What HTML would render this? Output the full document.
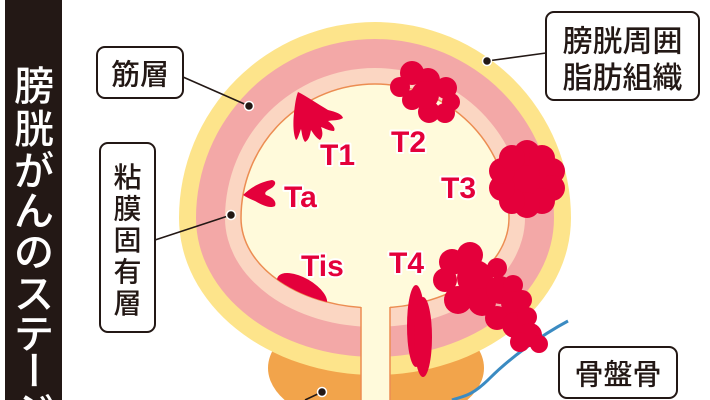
<!DOCTYPE html>
<html><head><meta charset="utf-8"><style>
html,body{margin:0;padding:0;background:#fff;width:710px;height:400px;overflow:hidden;}
svg{display:block;overflow:hidden;}
.bar{font-family:"Noto Sans CJK JP","Liberation Sans",sans-serif;font-size:40px;font-weight:500;fill:#fff;text-anchor:middle;}
.lb{font-family:"Noto Sans CJK JP","Liberation Sans",sans-serif;font-weight:500;fill:#231815;text-anchor:middle;}
.tl{font-family:"Liberation Sans","DejaVu Sans",sans-serif;font-weight:bold;font-size:30px;fill:#e4003b;stroke:#fff;stroke-width:4;paint-order:stroke;stroke-linejoin:round;}
</style></head><body>
<svg width="710" height="400" viewBox="0 0 710 400" xmlns="http://www.w3.org/2000/svg">
<defs>
<clipPath id="inner"><path d="M241,218 A134,134 0 0 1 509,218 A134,90 0 0 1 241,218 Z"/></clipPath>
</defs>
<rect width="710" height="400" fill="#fff"/>

<!-- left title bar -->
<rect x="5" y="0" width="57" height="400" fill="#231815"/>
<text class="bar" x="34" y="100">膀</text>
<text class="bar" x="34" y="143">胱</text>
<text class="bar" x="34" y="185">が</text>
<text class="bar" x="34" y="225">ん</text>
<text class="bar" x="34" y="266">の</text>
<text class="bar" x="34" y="308">ス</text>
<text class="bar" x="34" y="348">テ</text>
<text class="bar" x="34" y="385" transform="rotate(90 34 370)">ー</text>
<text class="bar" x="34" y="426">ジ</text>

<!-- prostate -->
<ellipse cx="376" cy="368" rx="108" ry="60" fill="#f2a44b"/>

<!-- bladder layers -->
<path d="M179,218 A196,196 0 0 1 571,218 A196,157 0 0 1 179,218 Z" fill="#fde48b"/>
<path d="M196,218 A179,179 0 0 1 554,218 A179,139 0 0 1 196,218 Z" fill="#f3a8a7"/>
<path d="M225,218 A150,150 0 0 1 525,218 A150,109 0 0 1 225,218 Z" fill="#fbd6c2"/>
<path d="M241,218 A134,134 0 0 1 509,218 A134,90 0 0 1 241,218 Z" fill="#fffadb" stroke="#ec8d52" stroke-width="1.5"/>

<!-- urethra channel -->
<rect x="361" y="300" width="29" height="100" fill="#fffadb"/>
<line x1="361" y1="307" x2="361" y2="400" stroke="#ec8d52" stroke-width="1.5"/>
<line x1="390" y1="307" x2="390" y2="400" stroke="#ec8d52" stroke-width="1.5"/>

<!-- pelvic bone line -->
<path d="M568,321 C540,336 510,358 490,378 S462,396 452,400" fill="none" stroke="#3b8bc2" stroke-width="3"/>

<!-- Tis -->
<g clip-path="url(#inner)">
<ellipse cx="302" cy="291" rx="28" ry="13" transform="rotate(30 302 291)" fill="#e4003b"/>
</g>

<!-- T1 -->
<path d="M298,92 C306,96 318,104 328,110 C336,112 342,114 343,118 C338,121 332,120 328,121 C332,124 336,128 334,131 C329,131 324,128 321,127 C323,132 323,137 320,140 C316,138 313,133 311,130 C310,135 309,140 305,142 C302,138 302,133 301,129 C299,134 298,139 296,140 C293,134 293,122 294,113 C295,104 296,97 298,92 Z" fill="#e4003b"/>

<!-- Ta -->
<path d="M243,195 C250,188 260,182 272,180 C277,181 276,186 270,189 C266,191 264,193 266,195 C272,197 277,201 275,206 C270,209 262,205 255,201 C250,199 246,197 243,195 Z" fill="#e4003b"/>

<!-- T2 -->
<g fill="#e4003b">
<circle cx="412" cy="73" r="12"/>
<circle cx="400" cy="87" r="10"/>
<circle cx="428" cy="80" r="12"/>
<circle cx="446" cy="88" r="11"/>
<circle cx="451" cy="102" r="9"/>
<circle cx="445" cy="113" r="10"/>
<circle cx="429" cy="112" r="11"/>
<circle cx="412" cy="100" r="10"/>
<circle cx="425" cy="95" r="14"/>
</g>

<!-- T3 -->
<g fill="#e4003b">
<circle cx="527" cy="179" r="30"/>
<circle cx="527" cy="153" r="13"/>
<circle cx="542" cy="158" r="13"/>
<circle cx="552" cy="171" r="13"/>
<circle cx="552" cy="188" r="13"/>
<circle cx="542" cy="201" r="13"/>
<circle cx="527" cy="205" r="13"/>
<circle cx="512" cy="201" r="13"/>
<circle cx="502" cy="188" r="13"/>
<circle cx="502" cy="171" r="13"/>
<circle cx="512" cy="158" r="13"/>
</g>

<!-- T4 -->
<g fill="#e4003b">
<ellipse cx="416" cy="326" rx="9" ry="41"/>
<ellipse cx="423" cy="337" rx="9" ry="40"/>
<circle cx="452" cy="262" r="13"/>
<circle cx="470" cy="255" r="13"/>
<circle cx="445" cy="280" r="12"/>
<circle cx="458" cy="300" r="14"/>
<circle cx="475" cy="278" r="18"/>
<circle cx="482" cy="302" r="14"/>
<circle cx="497" cy="268" r="10"/>
<circle cx="500" cy="290" r="14"/>
<circle cx="513" cy="285" r="10"/>
<circle cx="497" cy="318" r="12"/>
<circle cx="513" cy="303" r="12"/>
<circle cx="522" cy="300" r="10"/>
<circle cx="515" cy="325" r="13"/>
<circle cx="527" cy="317" r="10"/>
<circle cx="530" cy="335" r="12"/>
<circle cx="539" cy="344" r="9"/>
<circle cx="520" cy="342" r="10"/>
</g>

<!-- stage labels -->
<text class="tl" x="320" y="165">T1</text>
<text class="tl" x="391" y="152">T2</text>
<text class="tl" x="441" y="198">T3</text>
<text class="tl" x="284" y="207">Ta</text>
<text class="tl" x="301" y="276">Tis</text>
<text class="tl" x="389" y="273">T4</text>

<!-- connectors -->
<g stroke="#231815" stroke-width="1.6" fill="none">
<line x1="183" y1="77" x2="249" y2="106"/>
<line x1="155" y1="240" x2="231" y2="215"/>
<line x1="546" y1="53" x2="487" y2="61"/>
<line x1="322" y1="392" x2="305" y2="400"/>
</g>
<g fill="#231815" stroke="#fff" stroke-width="1.5">
<circle cx="249" cy="106" r="4.5"/>
<circle cx="231" cy="215" r="4.5"/>
<circle cx="487" cy="61" r="4.5"/>
<circle cx="322" cy="392" r="4.5"/>
</g>

<!-- label boxes -->
<g fill="#fff" stroke="#231815" stroke-width="2">
<rect x="97" y="47" width="86" height="51" rx="8"/>
<rect x="100" y="143" width="55" height="189" rx="8"/>
<rect x="546" y="12" width="153" height="88" rx="8"/>
<rect x="559" y="347" width="118" height="51" rx="8"/>
</g>

<text class="lb" x="140" y="84.5" font-size="29">筋層</text>

<text class="lb" x="127.5" y="187" font-size="28">粘</text>
<text class="lb" x="127.5" y="218.5" font-size="28">膜</text>
<text class="lb" x="127.5" y="250" font-size="28">固</text>
<text class="lb" x="127.5" y="281.5" font-size="28">有</text>
<text class="lb" x="127.5" y="313" font-size="28">層</text>

<text class="lb" x="622.5" y="51.5" font-size="30">膀胱周囲</text>
<text class="lb" x="622.5" y="88" font-size="30">脂肪組織</text>

<text class="lb" x="618" y="384.5" font-size="29">骨盤骨</text>
</svg>
</body></html>
